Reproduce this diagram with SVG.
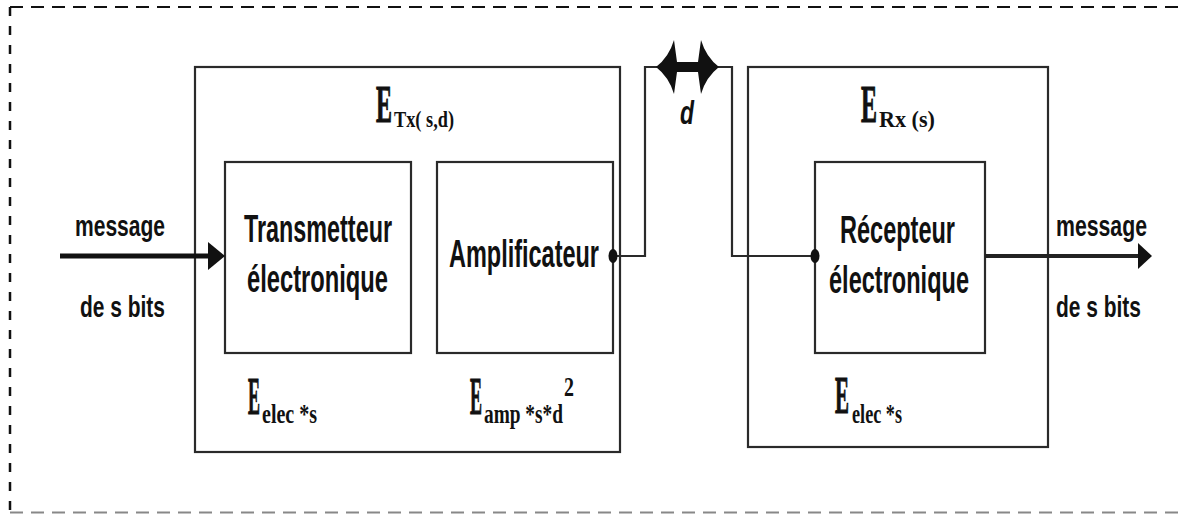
<svg xmlns="http://www.w3.org/2000/svg" width="1183" height="514" viewBox="0 0 1183 514">
<style>
.box{fill:none;stroke:#2a2a2a;stroke-width:2.2}
.wire{fill:none;stroke:#2a2a2a;stroke-width:2.2}
.sans{font-family:"Liberation Sans",Arial,sans-serif;font-weight:bold;fill:#111}
.serif{font-family:"Liberation Serif","Times New Roman",serif;font-weight:bold;fill:#111}
.lbl{font-size:30px}
.blk{font-size:38px}
.big{font-size:52px;stroke:#111;stroke-width:1.2}
.sub{font-size:28px;stroke:none}
.tsub{font-size:24px;stroke:none}
</style>
<rect x="0" y="0" width="1183" height="514" fill="#ffffff"/>
<g id="frame">
<line x1="10" y1="7" x2="1183" y2="7" stroke="#111" stroke-width="2" stroke-dasharray="13 8"/>
<line x1="10" y1="7" x2="10" y2="514" stroke="#111" stroke-width="2.5" stroke-dasharray="9 10"/>
<line x1="10" y1="512.5" x2="1183" y2="512.5" stroke="#888" stroke-width="2" stroke-dasharray="13 8"/>
</g>
<g id="tx">
<rect class="box" x="195" y="67" width="425" height="385"/>
<text class="serif big" x="376" y="122"><tspan textLength="16" lengthAdjust="spacingAndGlyphs">E</tspan><tspan class="tsub" x="394" y="127" textLength="60" lengthAdjust="spacingAndGlyphs">Tx( s,d)</tspan></text>
<text class="serif big" x="248" y="414"><tspan textLength="12" lengthAdjust="spacingAndGlyphs">E</tspan><tspan class="sub" x="262" y="423" textLength="55" lengthAdjust="spacingAndGlyphs">elec *s</tspan></text>
<text class="serif big" x="470" y="414"><tspan textLength="12" lengthAdjust="spacingAndGlyphs">E</tspan><tspan class="sub" x="484" y="423" textLength="79" lengthAdjust="spacingAndGlyphs">amp *s*d</tspan><tspan class="sub" x="564" y="396" textLength="10" lengthAdjust="spacingAndGlyphs">2</tspan></text>
</g>
<g id="transmetteur">
<rect class="box" x="225" y="162" width="186" height="191"/>
<text class="sans blk" x="244" y="242" textLength="148" lengthAdjust="spacingAndGlyphs">Transmetteur</text>
<text class="sans blk" x="247" y="292" textLength="141" lengthAdjust="spacingAndGlyphs">électronique</text>
</g>
<g id="amplificateur">
<rect class="box" x="437" y="162" width="176" height="191"/>
<text class="sans blk" x="449" y="267" textLength="150" lengthAdjust="spacingAndGlyphs">Amplificateur</text>
</g>
<g id="rx">
<rect class="box" x="748" y="67" width="300" height="380"/>
<text class="serif big" x="861" y="122"><tspan textLength="16" lengthAdjust="spacingAndGlyphs">E</tspan><tspan class="tsub" x="879" y="127" textLength="56" lengthAdjust="spacingAndGlyphs">Rx (s)</tspan></text>
<text class="serif big" x="835" y="413"><tspan textLength="14" lengthAdjust="spacingAndGlyphs">E</tspan><tspan class="sub" x="852" y="423" textLength="50" lengthAdjust="spacingAndGlyphs">elec *s</tspan></text>
</g>
<g id="recepteur">
<rect class="box" x="815" y="162" width="170" height="191"/>
<text class="sans blk" x="840" y="243" textLength="115" lengthAdjust="spacingAndGlyphs">Récepteur</text>
<text class="sans blk" x="829" y="293" textLength="140" lengthAdjust="spacingAndGlyphs">électronique</text>
</g>
<g id="labels">
<text class="sans lbl" x="75" y="236" textLength="90" lengthAdjust="spacingAndGlyphs">message</text>
<text class="sans lbl" x="80" y="317" textLength="85" lengthAdjust="spacingAndGlyphs">de s bits</text>
<text class="sans lbl" x="1056" y="236" textLength="91" lengthAdjust="spacingAndGlyphs">message</text>
<text class="sans lbl" x="1056" y="317" textLength="85" lengthAdjust="spacingAndGlyphs">de s bits</text>
<text style="font-family:'Liberation Sans',Arial,sans-serif;font-style:italic;font-weight:bold;font-size:34px;fill:#111" x="680" y="124" textLength="14" lengthAdjust="spacingAndGlyphs">d</text>
</g>
<g id="connectors">
<line x1="60" y1="256" x2="210" y2="256" stroke="#111" stroke-width="5"/>
<polygon points="208,242 225,256 208,270" fill="#111"/>
<line x1="985" y1="256" x2="1140" y2="256" stroke="#222" stroke-width="4"/>
<polygon points="1138,243 1152,256 1138,269" fill="#111"/>
<path class="wire" d="M613,256 H645 V67 H658"/>
<path class="wire" d="M717,67 H732 V256 H815"/>
<path d="M656,67 Q669,57 674,40 L677,62 L698,62 L701,40 Q706,57 719,67 Q706,77 701,94 L698,72 L677,72 L674,94 Q669,77 656,67 Z" fill="#111"/>
<ellipse cx="613" cy="256" rx="4.5" ry="7" fill="#111"/>
<ellipse cx="815" cy="256" rx="4.5" ry="7" fill="#111"/>
</g>
</svg>
